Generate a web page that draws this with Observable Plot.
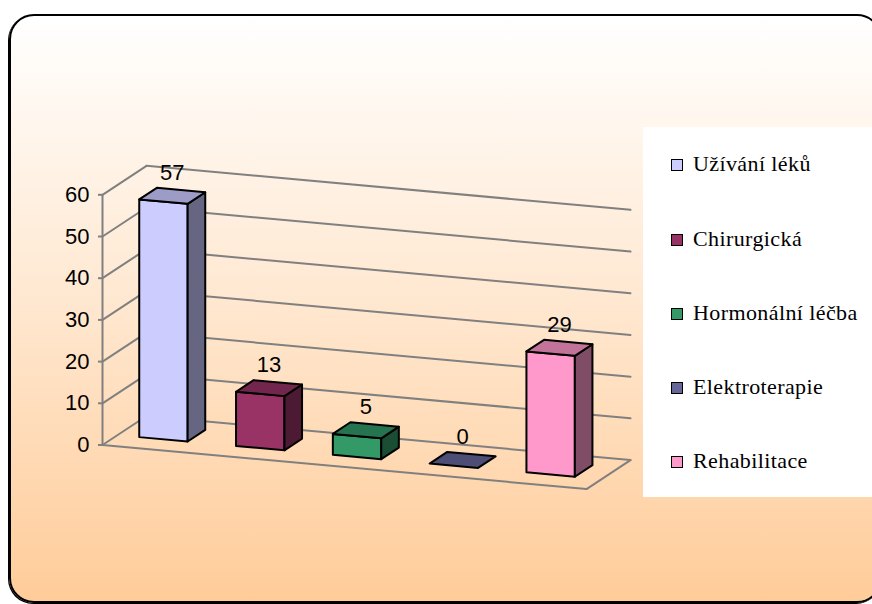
<!DOCTYPE html>
<html>
<head>
<meta charset="utf-8">
<script src="https://cdn.jsdelivr.net/npm/d3@7"></script>
<script src="https://cdn.jsdelivr.net/npm/@observablehq/plot@0.6"></script>
<style>
  html, body { margin: 0; padding: 0; background: #ffffff; }
  #wrap { position: relative; width: 872px; height: 604px; overflow: hidden; background: #ffffff; }
  #frame {
    position: absolute; left: 9px; top: 14px; width: 873px; height: 589px;
    box-sizing: border-box; border: 2px solid #000; border-radius: 25px;
    background: linear-gradient(to bottom, #ffffff 0%, #ffe7cf 50%, #ffcc99 100%);
    box-shadow: -1px 1px 0 #000;
  }
  #chart { position: absolute; left: 0; top: 0; }
  #legend {
    position: absolute; left: 643px; top: 127px; width: 240px; height: 370px;
    background: #ffffff;
  }
  .lg-sw { position: absolute; width: 12px; height: 12px; box-sizing: border-box; border: 1.5px solid #000; }
  .lg-tx { position: absolute; font-family: 'Liberation Serif', 'DejaVu Serif', 'Times New Roman', serif; font-size: 22px;
           line-height: 22px; letter-spacing: 0.4px; color: #000; white-space: nowrap; }
</style>
</head>
<body>
<div id="wrap">
  <div id="frame"></div>
  <div id="chart"></div>
  <div id="legend"></div>
</div>
<script>
// ---- data ----
const categories = ["Užívání léků", "Chirurgická", "Hormonální léčba", "Elektroterapie", "Rehabilitace"];
const values = [57, 13, 5, 0, 29];
const yTicks = [0, 10, 20, 30, 40, 50, 60];
const frontColors = ["#ccccff", "#993366", "#339966", "#666699", "#ff99cc"];
const topColors   = ["#9c9cc6", "#73264d", "#267350", "#4d4d75", "#c27399"];
const sideColors  = ["#666682", "#4d1a33", "#1a4d33", "#333350", "#804d66"];

// ---- oblique projection (in data units of the Plot scales) ----
const nCat = categories.length;
const xRange = [102, 586];
const yRange = [444.5, 194.3];
const yMax = yTicks[yTicks.length - 1];
const slotPx = (xRange[1] - xRange[0]) / nCat;
const unitPx = (yRange[0] - yRange[1]) / yMax;
const depthX = 44 / slotPx;          // depth shift in slot units
const depthY = 29 / unitPx;          // depth shift in value units
const skew = 0.091 * slotPx / unitPx; // rotation slope in value units per slot
function P(u, v, d) { return {x: u + d * depthX, y: v - skew * u + d * depthY}; }

// gridlines / walls
const gridRows = [];
function seg(id, a, b) { gridRows.push({id, ...a}, {id, ...b}); }
yTicks.forEach(t => {
  seg("back" + t, P(0, t, 1), P(nCat, t, 1));
  seg("side" + t, P(0, t, 0), P(0, t, 1));
});
seg("axis", P(0, 0, 0), P(0, yMax, 0));
seg("floorFront", P(0, 0, 0), P(nCat, 0, 0));
seg("floorRight", P(nCat, 0, 0), P(nCat, 0, 1));

// bar faces
const halfW = 0.25, d0 = 0.34, d1 = 0.74, cOff = 0.475;
const faceRows = [];
function face(id, fill, pts) { pts.forEach(p => faceRows.push({id, fill, ...p})); }
values.forEach((v, i) => {
  const uL = i + cOff - halfW, uR = i + cOff + halfW;
  if (v > 0) {
    face("front" + i, frontColors[i], [P(uL, 0, d0), P(uR, 0, d0), P(uR, v, d0), P(uL, v, d0)]);
    face("side" + i, sideColors[i], [P(uR, 0, d0), P(uR, 0, d1), P(uR, v, d1), P(uR, v, d0)]);
  }
  face("top" + i, topColors[i], [P(uL, v, d0), P(uR, v, d0), P(uR, v, d1), P(uL, v, d1)]);
});

const labelRows = values.map((v, i) => ({...P(i + cOff, v, (d0 + d1) / 2), text: String(v)}));

const chart = Plot.plot({
  width: 872, height: 604,
  marginLeft: xRange[0], marginRight: 872 - xRange[1], marginTop: yRange[1], marginBottom: 604 - yRange[0],
  style: {background: "transparent", fontFamily: "'Liberation Sans', Arial, sans-serif", fontSize: "22px", overflow: "visible", color: "black"},
  x: {domain: [0, nCat], range: xRange, axis: null},
  y: {domain: [0, yMax], range: yRange, axis: null},
  color: {type: "identity"},
  marks: [
    Plot.line(gridRows, {x: "x", y: "y", z: "id", stroke: "#808080", strokeWidth: 2}),
    Plot.axisY(yTicks, {anchor: "left", tickSize: 4, tickPadding: 9, stroke: "#808080", strokeWidth: 2, fill: "black", fontSize: 22, label: null}),
    Plot.line(faceRows, {x: "x", y: "y", z: "id", fill: "fill", stroke: "black", strokeWidth: 2, curve: "linear-closed", strokeLinejoin: "round"}),
    Plot.text(labelRows, {x: "x", y: "y", text: "text", dy: -16, lineAnchor: "bottom", fill: "black", fontSize: 22})
  ]
});
document.getElementById("chart").appendChild(chart);

// ---- legend ----
const legend = document.getElementById("legend");
const lgLeft = 643, lgTop = 127;
categories.forEach((c, i) => {
  const cy = 165.3 + i * 74.2;
  const sw = document.createElement("div");
  sw.className = "lg-sw";
  sw.style.left = (671 - lgLeft) + "px";
  sw.style.top = (cy - 6 - lgTop) + "px";
  sw.style.background = frontColors[i];
  legend.appendChild(sw);
  const tx = document.createElement("div");
  tx.className = "lg-tx";
  tx.style.left = (693 - lgLeft) + "px";
  tx.style.top = (cy + 6.5 - 18.4 - lgTop) + "px";
  tx.textContent = c;
  legend.appendChild(tx);
});
</script>
</body>
</html>
